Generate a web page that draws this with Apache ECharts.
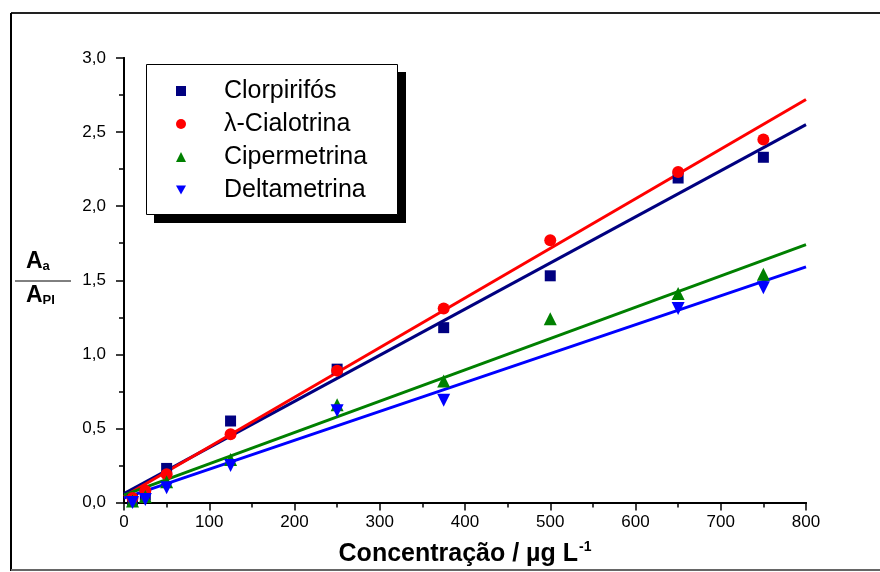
<!DOCTYPE html>
<html><head><meta charset="utf-8">
<script src="https://cdn.jsdelivr.net/npm/echarts@6/dist/echarts.min.js"></script>
<style>html,body{margin:0;padding:0;background:#fff}#c{width:880px;height:572px}</style>
</head><body><div id="c"></div>
<script>
var seriesNames = ['Clorpirifós', 'λ-Cialotrina', 'Cipermetrina', 'Deltametrina'];
var colors = ['#000080', '#ff0000', '#008000', '#0000ff'];
var symbols = ['rect', 'circle', 'triangle', 'path://M0,0 L10,0 L5,9 Z'];
var clorpirifos = [[10,0.02],[25,0.05],[50,0.23],[125,0.55],[250,0.90],[375,1.18],[500,1.53],[650,2.19],[750,2.33]];
var cialotrina = [[10,0.03],[25,0.08],[50,0.19],[125,0.46],[250,0.89],[375,1.31],[500,1.77],[650,2.23],[750,2.45]];
var cipermetrina = [[10,0.01],[25,0.04],[50,0.14],[125,0.29],[250,0.66],[375,0.82],[500,1.24],[650,1.41],[750,1.54]];
var deltametrina = [[10,0.00],[25,0.02],[50,0.10],[125,0.25],[250,0.62],[375,0.69],[650,1.31],[750,1.45]];
var fitStart = [0.06, 0.04, 0.05, 0.03];
var fitEnd = [2.55, 2.72, 1.74, 1.59];
var fitX = [0, 800];
var allData = [clorpirifos, cialotrina, cipermetrina, deltametrina];

var chart = echarts.init(document.getElementById('c'));
var series = [];
for (var i = 0; i < 4; i++) {
  series.push({
    name: 'fit' + i, type: 'line', symbol: 'none', silent: true,
    data: [[fitX[0], fitStart[i]], [fitX[1], fitEnd[i]]],
    lineStyle: {color: colors[i], width: 3}, z: 2
  });
}
var sizes = [11, 12, 13, 13];
for (var i = 0; i < 4; i++) {
  series.push({
    name: seriesNames[i], type: 'scatter', symbol: symbols[i], symbolSize: sizes[i],
    data: allData[i], itemStyle: {color: colors[i], opacity: 1}, z: 3
  });
}
var FF = 'Liberation Sans, Arial';
var axisFont = {fontFamily: FF, fontSize: 17, color: '#000'};
var fracRich = {
  A: {fontFamily: FF, fontSize: 23, fontWeight: 'bold', fill: '#000'},
  b: {fontFamily: FF, fontSize: 13, fontWeight: 'bold', fill: '#000', verticalAlign: 'bottom'}
};
chart.setOption({
  animation: false,
  backgroundColor: '#fff',
  grid: {left: 124, right: 74, top: 58, bottom: 68},
  legend: {
    data: seriesNames.map(function (n, i) { return {name: n, icon: symbols[i]}; }),
    orient: 'vertical', left: 176, top: 78, z: 10,
    padding: 0,
    itemWidth: 10, itemHeight: 10, itemGap: 7,
    textStyle: {fontFamily: FF, fontSize: 25, color: '#000', lineHeight: 26, padding: [0, 0, 0, 33]}
  },
  xAxis: [{
    type: 'value', min: 0, max: 800, interval: 100,
    name: '{a|Concentração / µg L}{s|-1}', nameLocation: 'middle', nameGap: 38,
    nameTextStyle: {rich: {
      a: {fontFamily: FF, fontSize: 25, fontWeight: 'bold', color: '#000'},
      s: {fontFamily: FF, fontSize: 14, fontWeight: 'bold', color: '#000', verticalAlign: 'top', padding: [0,0,14,1]}
    }},
    axisLine: {show: true, lineStyle: {color: '#000', width: 2}},
    axisTick: {show: true, length: 8, lineStyle: {color: '#000', width: 1.5}},
    minorTick: {show: true, splitNumber: 2, length: 5, lineStyle: {color: '#000', width: 1.5}},
    axisLabel: Object.assign({margin: 11}, axisFont), splitLine: {show: false}
  }, {
    type: 'value', min: 0, max: 800, interval: 100, position: 'top',
    axisLine: {show: true, lineStyle: {color: '#000', width: 2}},
    axisTick: {show: true, inside: true, length: 6, lineStyle: {color: '#000', width: 1.5}},
    minorTick: {show: true, splitNumber: 2, length: 4, lineStyle: {color: '#000', width: 1.5}},
    axisLabel: {show: false}, splitLine: {show: false}
  }],
  yAxis: [{
    type: 'value', min: 0, max: 3, interval: 0.5,
    axisLine: {show: true, lineStyle: {color: '#000', width: 2}},
    axisTick: {show: true, length: 8, lineStyle: {color: '#000', width: 1.5}},
    minorTick: {show: true, splitNumber: 2, length: 5, lineStyle: {color: '#000', width: 1.5}},
    axisLabel: Object.assign({margin: 18, formatter: function (v) { return v.toFixed(1).replace('.', ','); }}, axisFont),
    splitLine: {show: false}
  }, {
    type: 'value', min: 0, max: 3, interval: 0.5, position: 'right',
    axisLine: {show: true, lineStyle: {color: '#000', width: 2}},
    axisTick: {show: true, inside: true, length: 6, lineStyle: {color: '#000', width: 1.5}},
    minorTick: {show: true, splitNumber: 2, length: 4, lineStyle: {color: '#000', width: 1.5}},
    axisLabel: {show: false}, splitLine: {show: false}
  }],
  series: series,
  graphic: [
    {type: 'line', shape: {x1: 11, y1: 13, x2: 880, y2: 13}, style: {stroke: '#222', lineWidth: 2}},
    {type: 'line', shape: {x1: 11, y1: 13, x2: 11, y2: 571}, style: {stroke: '#000', lineWidth: 2}},
    {type: 'line', shape: {x1: 11, y1: 570, x2: 880, y2: 570}, style: {stroke: '#666', lineWidth: 2}},
    {type: 'rect', z: 5, shape: {x: 154, y: 72, width: 252, height: 151}, style: {fill: '#000'}},
    {type: 'rect', z: 6, shape: {x: 146.5, y: 64.5, width: 251, height: 150}, style: {fill: '#fff', stroke: '#000', lineWidth: 1}},
    {type: 'line', shape: {x1: 15, y1: 281, x2: 71, y2: 281}, style: {stroke: '#000', lineWidth: 1}},
    {type: 'text', left: 26, top: 250, style: {rich: fracRich, text: '{A|A}{b|a}'}},
    {type: 'text', left: 26, top: 284, style: {rich: fracRich, text: '{A|A}{b|PI}'}}
  ]
});
</script></body></html>
